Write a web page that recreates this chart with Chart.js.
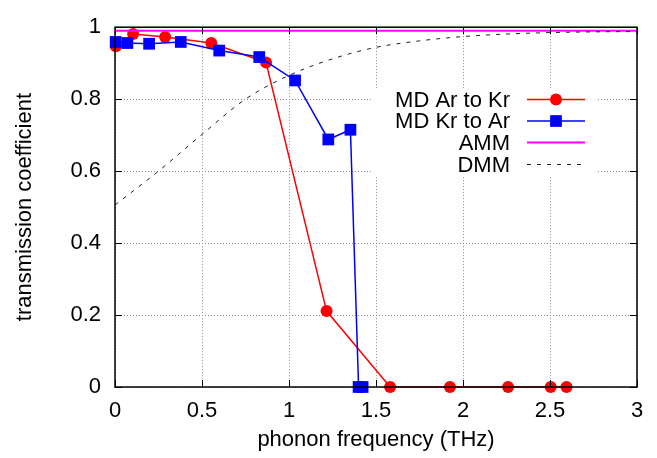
<!DOCTYPE html>
<html>
<head>
<meta charset="utf-8">
<script src="https://cdn.jsdelivr.net/npm/chart.js@4.4.0/dist/chart.umd.min.js"></script>
<style>
html,body{margin:0;padding:0;background:#fff;}
#c{display:block;}
</style>
</head>
<body>
<canvas id="c" width="657" height="458"></canvas>
<script>
// ---- data ----
const xTickLabels = ["0","0.5","1","1.5","2","2.5","3"];
const yTickLabels = ["0","0.2","0.4","0.6","0.8","1"];

const arKrX = [0.005, 0.104, 0.288, 0.553, 0.868, 1.216, 1.581, 1.925, 2.259, 2.504, 2.595];
const arKrY = [0.947, 0.981, 0.973, 0.956, 0.902, 0.211, 0, 0, 0, 0, 0];

const krArX = [0.004, 0.071, 0.196, 0.378, 0.599, 0.829, 1.035, 1.226, 1.353, 1.400, 1.423];
const krArY = [0.959, 0.956, 0.954, 0.959, 0.935, 0.917, 0.852, 0.688, 0.715, 0, 0];

const ammX = [0, 3];
const ammY = [0.99, 0.99];

const dmmX = [0, 0.25, 0.5, 0.75, 1.0, 1.25, 1.5, 1.75, 2.0, 2.25, 2.5, 2.75, 3.0];
const dmmY = [0.506, 0.600, 0.702, 0.800, 0.866, 0.912, 0.944, 0.962, 0.974, 0.981, 0.985, 0.987, 0.988];

const seriesLabels = ["MD Ar to Kr", "MD Kr to Ar", "AMM", "DMM"];

const pts = (xs, ys) => xs.map((x, i) => ({x: x, y: ys[i]}));

const FONT = "'Liberation Sans', Arial, Helvetica, sans-serif";
const FS = 22;

// opaque key box + custom key, inward tick marks, border
const keyPlugin = {
  id: 'keyPlugin',
  beforeDatasetsDraw(chart) {
    const ctx = chart.ctx;
    ctx.save();
    ctx.fillStyle = '#ffffff';
    ctx.fillRect(373, 88, 225, 89);
    ctx.restore();
  },
  afterDatasetsDraw(chart) {
    const ctx = chart.ctx;
    const a = chart.chartArea;
    const xs = chart.scales.x, ys = chart.scales.y;
    ctx.save();
    // border
    ctx.strokeStyle = '#000';
    ctx.lineWidth = 1.5;
    ctx.setLineDash([]);
    ctx.strokeRect(a.left, a.top, a.right - a.left, a.bottom - a.top);
    // inward ticks
    ctx.lineWidth = 1;
    const tl = 7;
    xs.ticks.forEach(t => {
      const px = Math.round(xs.getPixelForValue(t.value)) + 0.5;
      ctx.beginPath();
      ctx.moveTo(px, a.bottom); ctx.lineTo(px, a.bottom - tl);
      ctx.moveTo(px, a.top); ctx.lineTo(px, a.top + tl);
      ctx.stroke();
    });
    ys.ticks.forEach(t => {
      const py = Math.round(ys.getPixelForValue(t.value)) + 0.5;
      ctx.beginPath();
      ctx.moveTo(a.left, py); ctx.lineTo(a.left + tl, py);
      ctx.moveTo(a.right, py); ctx.lineTo(a.right - tl, py);
      ctx.stroke();
    });
    // key
    const rows = [99.5, 121, 142.5, 164.5];
    const textRight = 510, s0 = 527, s1 = 585, sm = 556;
    ctx.font = FS + 'px ' + FONT;
    ctx.textAlign = 'right';
    ctx.textBaseline = 'middle';
    chart.data.datasets.forEach((ds, i) => {
      const y = rows[i];
      ctx.fillStyle = '#000';
      ctx.fillText(ds.label, textRight, y + 1);
      ctx.strokeStyle = ds.borderColor;
      ctx.lineWidth = ds.borderWidth;
      ctx.setLineDash(ds.borderDash || []);
      ctx.beginPath();
      ctx.moveTo(s0, y); ctx.lineTo(s1, y);
      ctx.stroke();
      ctx.setLineDash([]);
      if (ds.pointRadius > 0) {
        ctx.fillStyle = ds.pointBackgroundColor;
        if (ds.pointStyle === 'rect') {
          const h = ds.pointRadius * Math.SQRT1_2;
          ctx.fillRect(sm - h, y - h, 2 * h, 2 * h);
        } else {
          ctx.beginPath();
          ctx.arc(sm, y, ds.pointRadius, 0, Math.PI * 2);
          ctx.fill();
        }
      }
    });
    ctx.restore();
  }
};

new Chart(document.getElementById('c'), {
  type: 'line',
  data: {
    datasets: [
      {
        label: seriesLabels[0],
        data: pts(arKrX, arKrY),
        borderColor: '#ff0000', backgroundColor: '#ff0000',
        pointBackgroundColor: '#ff0000', pointBorderWidth: 0,
        borderWidth: 1.5, pointRadius: 6, pointStyle: 'circle',
        tension: 0, clip: false, order: 4
      },
      {
        label: seriesLabels[1],
        data: pts(krArX, krArY),
        borderColor: '#0000ff', backgroundColor: '#0000ff',
        pointBackgroundColor: '#0000ff', pointBorderWidth: 0,
        borderWidth: 1.5, pointRadius: 8.3, pointStyle: 'rect',
        tension: 0, clip: false, order: 3
      },
      {
        label: seriesLabels[2],
        data: pts(ammX, ammY),
        borderColor: '#ff00ff', backgroundColor: '#ff00ff',
        borderWidth: 2, pointRadius: 0, tension: 0, order: 2
      },
      {
        label: seriesLabels[3],
        data: pts(dmmX, dmmY),
        borderColor: '#222222', backgroundColor: '#222222',
        borderWidth: 1, borderDash: [4, 6], pointRadius: 0,
        cubicInterpolationMode: 'monotone', order: 1
      }
    ]
  },
  options: {
    responsive: false,
    animation: false,
    devicePixelRatio: 1,
    layout: { padding: { top: 12, right: 20, left: 0, bottom: 0 } },
    plugins: { legend: { display: false }, tooltip: { enabled: false } },
    scales: {
      x: {
        type: 'linear', min: 0, max: 3,
        afterFit(s) { s.height = 71; },
        afterBuildTicks(s) { s.ticks = xTickLabels.map(v => ({value: parseFloat(v)})); },
        ticks: {
          callback: (v, i) => xTickLabels[i],
          color: '#000', padding: 11, maxRotation: 0,
          font: { family: FONT, size: FS }
        },
        grid: { color: '#8c8c8c', lineWidth: 1, drawTicks: false },
        border: { display: false, dash: [1, 2] },
        title: {
          display: true, text: 'phonon frequency (THz)', color: '#000',
          font: { family: FONT, size: FS, lineHeight: 1.2 },
          padding: { top: 5, bottom: 5 }
        }
      },
      y: {
        type: 'linear', min: 0, max: 1,
        afterFit(s) { s.width = 115; },
        afterBuildTicks(s) { s.ticks = yTickLabels.map(v => ({value: parseFloat(v)})); },
        ticks: {
          callback: (v, i) => yTickLabels[i],
          color: '#000', padding: 14,
          font: { family: FONT, size: FS }
        },
        grid: { color: '#8c8c8c', lineWidth: 1, drawTicks: false },
        border: { display: false, dash: [1, 2] },
        title: {
          display: true, text: 'transmission coefficient', color: '#000',
          font: { family: FONT, size: FS, lineHeight: 1.2 },
          padding: { top: 12, bottom: 12 }
        }
      }
    }
  },
  plugins: [keyPlugin]
});
</script>
</body>
</html>
